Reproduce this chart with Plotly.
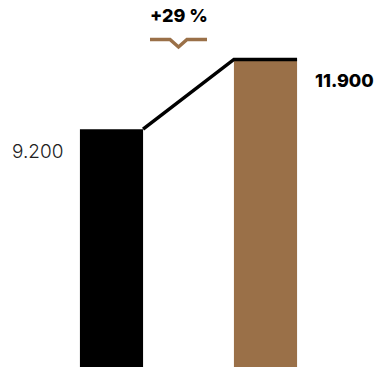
import plotly.graph_objects as go

# Values for the two periods
categories = ["Vorher", "Nachher"]
values = [9200, 11900]
value_labels = ["9.200", "11.900"]
change_label = "+29 %"

BROWN = "#9A7048"
bar_colors = ["#000000", BROWN]
BAR_W = 0.41
half = BAR_W / 2
xpos = list(range(len(categories)))

fig = go.Figure()

fig.add_trace(go.Bar(
    x=xpos, y=values, width=BAR_W,
    marker=dict(color=bar_colors, line=dict(width=0)),
    hoverinfo="skip",
))

# Connector from the top of the first bar to the top of the second bar
fig.add_trace(go.Scatter(
    x=[xpos[0] + half, xpos[1] - half, xpos[1] + half],
    y=[values[0], values[1], values[1]],
    mode="lines",
    line=dict(color="#000000", width=3.5),
    hoverinfo="skip",
))

# Value labels
fig.add_annotation(x=xpos[0] - half, y=values[0], text=value_labels[0],
                   xref="x", yref="y", xanchor="right", yanchor="middle",
                   xshift=-15, yshift=-22, showarrow=False,
                   font=dict(family="Inter", size=19, color="#222222", weight=300))
fig.add_annotation(x=xpos[1] + half, y=values[1], text=value_labels[1],
                   xref="x", yref="y", xanchor="left", yanchor="middle",
                   xshift=16, yshift=-21, showarrow=False,
                   font=dict(family="Inter", size=18, color="#000000", weight=800))

# Change label with a small brown notch marker underneath
fig.add_annotation(x=178.5 / 378, y=1 - 16 / 368, text=change_label,
                   xref="paper", yref="paper", xanchor="center", yanchor="middle",
                   showarrow=False,
                   font=dict(family="Inter", size=18, color="#000000", weight=800))

def px(x, y):
    return f"{x / 378:.4f},{1 - y / 368:.4f}"

fig.add_shape(type="path", xref="paper", yref="paper",
              path=f"M{px(150, 39.5)} L{px(170, 39.5)} L{px(178.5, 47)} "
                   f"L{px(187, 39.5)} L{px(207, 39.5)}",
              line=dict(color=BROWN, width=3.5))

fig.update_layout(
    width=378, height=368,
    margin=dict(l=0, r=0, t=0, b=0),
    paper_bgcolor="white", plot_bgcolor="white",
    showlegend=False,
    xaxis=dict(range=[-111.5 / 154, (378 - 111.5) / 154], visible=False, fixedrange=True),
    yaxis=dict(range=[-40, 14200], visible=False, fixedrange=True),
)

fig.write_html("out.html", config={"displayModeBar": False})
